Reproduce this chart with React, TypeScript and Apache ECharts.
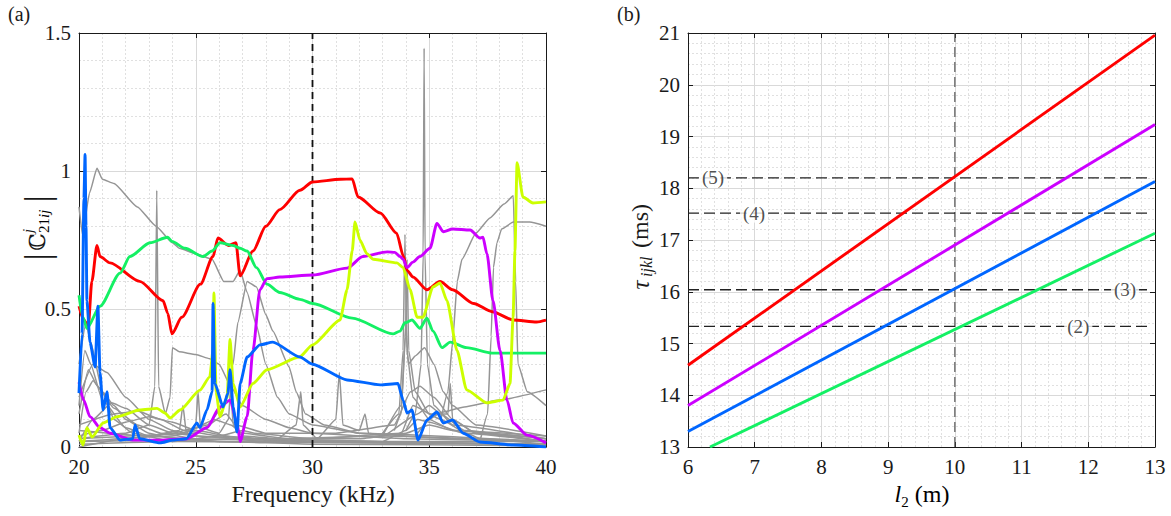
import React, { useEffect, useRef } from "react";
import * as echarts from "echarts";

// ---------- Panel (a) data: |C^j_21ij| vs frequency (kHz) ----------
const redA = [[20,0.51],[20.2,0.46],[20.4,0.44],[20.55,0.6],[20.77,0.73],[20.9,0.69],[21.33,0.667],[22.6,0.6],[23.6,0.53],[23.8,0.485],[23.98,0.41],[24.4,0.47],[25.2,0.59],[25.74,0.69],[25.95,0.757],[26.4,0.73],[26.72,0.74],[26.9,0.62],[27.45,0.71],[28.0,0.8],[28.6,0.86],[29.46,0.93],[30,0.96],[31.2,0.97],[31.7,0.971],[31.95,0.906],[32.9,0.848],[33.6,0.775],[33.9,0.69],[34.05,0.64],[34.3,0.616],[34.9,0.57],[35.46,0.6],[36,0.57],[36.9,0.52],[37.7,0.49],[38.6,0.46],[39.6,0.453],[40,0.46]];
const greenA = [[20,0.55],[20.17,0.47],[20.34,0.43],[20.9,0.51],[21.76,0.63],[22.18,0.69],[23.04,0.74],[23.8,0.76],[23.98,0.745],[24.54,0.72],[25.31,0.69],[25.7,0.71],[26.04,0.74],[26.6,0.73],[26.9,0.72],[27.2,0.71],[27.6,0.65],[28.05,0.59],[28.6,0.56],[29.46,0.535],[30,0.52],[31.7,0.467],[33.45,0.41],[33.75,0.42],[33.96,0.45],[34.26,0.46],[34.6,0.43],[34.9,0.467],[35.16,0.42],[35.55,0.36],[35.9,0.38],[36.6,0.36],[37.7,0.34],[40,0.34]];
const magentaA = [[20,0.235],[20.2,0.17],[20.47,0.11],[20.9,0.07],[21.33,0.05],[22.3,0.025],[23.47,0.025],[24.6,0.03],[25.48,0.07],[26.04,0.145],[26.47,0.17],[26.77,0.087],[26.9,0.02],[27.2,0.11],[27.45,0.35],[27.75,0.57],[28.05,0.61],[28.6,0.616],[30,0.623],[31.48,0.648],[32.16,0.69],[33.2,0.707],[33.53,0.705],[33.75,0.69],[33.88,0.68],[34.05,0.65],[34.3,0.67],[34.6,0.69],[35.03,0.72],[35.33,0.81],[35.6,0.78],[36.0,0.79],[36.75,0.786],[37.17,0.757],[37.3,0.76],[37.47,0.7],[37.73,0.53],[38.03,0.35],[38.33,0.17],[38.59,0.087],[39.19,0.043],[40,0.015]];
const yellowA = [[20,0.043],[20.17,0.007],[20.34,0.07],[20.56,0.036],[21.03,0.087],[21.63,0.11],[22.6,0.134],[23.34,0.14],[23.68,0.123],[23.9,0.105],[24.33,0.134],[25.18,0.206],[25.6,0.254],[25.74,0.35],[25.78,0.558],[25.87,0.2],[26.04,0.11],[26.34,0.18],[26.47,0.39],[26.6,0.23],[26.9,0.145],[27.45,0.23],[28.05,0.28],[29.46,0.327],[30,0.37],[31.18,0.46],[31.48,0.57],[31.7,0.71],[31.82,0.815],[32.03,0.75],[32.33,0.7],[32.6,0.68],[33.62,0.667],[33.88,0.65],[34.18,0.57],[34.48,0.47],[34.73,0.47],[35.16,0.58],[35.46,0.594],[35.76,0.53],[36.19,0.35],[36.6,0.207],[37.47,0.16],[38.16,0.17],[38.46,0.23],[38.59,0.47],[38.67,0.71],[38.76,1.03],[39.01,0.906],[39.44,0.884],[40,0.888]];
const blueA = [[20,0.195],[20.13,0.41],[20.21,0.9],[20.26,1.06],[20.3,0.8],[20.34,0.53],[20.47,0.38],[20.69,0.29],[20.81,0.51],[20.9,0.27],[21.03,0.134],[21.2,0.2],[21.33,0.07],[21.76,0.025],[22.3,0.03],[22.4,0.08],[22.6,0.03],[23.47,0.015],[24.03,0.025],[24.6,0.03],[25.05,0.087],[25.18,0.07],[25.48,0.134],[25.7,0.2],[25.74,0.52],[25.82,0.23],[26.17,0.145],[26.38,0.195],[26.47,0.28],[26.6,0.145],[26.77,0.054],[26.9,0.23],[27.2,0.326],[27.75,0.37],[28.3,0.38],[29.46,0.326],[30,0.3],[31.48,0.243],[32.9,0.225],[33.66,0.23],[33.88,0.17],[34.05,0.123],[34.26,0.134],[34.52,0.025],[34.9,0.098],[35.33,0.127],[35.6,0.087],[36.0,0.098],[36.45,0.05],[37.17,0.018],[38.6,0.007],[40,0.0]];

const gray1 = [[20,0.87],[20.15,0.77],[20.45,0.92],[20.77,1.01],[21,0.97],[21.5,0.955],[22.5,0.87],[23.3,0.8],[24,0.74],[24.3,0.72],[25,0.7],[25.7,0.68],[26.2,0.6],[26.6,0.6],[26.9,0.64],[27.2,0.56],[27.6,0.44],[28,0.3],[28.5,0.18],[29,0.12],[30,0.08],[32,0.05],[36,0.03],[40,0.02]];
const gray2 = [[20,0.03],[22,0.05],[23,0.08],[23.25,0.22],[23.33,0.93],[23.41,0.22],[23.7,0.12],[23.9,0.18],[24.0,0.36],[24.3,0.345],[25,0.335],[25.6,0.32],[26,0.3],[26.5,0.22],[27,0.15],[28,0.1],[29,0.07],[30,0.05],[34,0.03],[40,0.02]];
const gray3 = [[20,0.02],[24,0.04],[25.5,0.08],[26.2,0.15],[26.6,0.3],[26.8,0.45],[27.2,0.6],[27.6,0.58],[28,0.48],[28.3,0.42],[29,0.29],[29.3,0.2],[29.7,0.12],[30.5,0.08],[32,0.05],[40,0.02]];
const gray4 = [[35.5,0.1],[35.8,0.2],[36.0,0.38],[36.2,0.6],[36.4,0.68],[37,0.775],[37.6,0.83],[38.2,0.88],[38.6,0.91],[38.7,0.6],[38.8,0.3],[39.2,0.2],[40,0.15]];
const gray5 = [[37.2,0.03],[37.5,0.12],[37.65,0.4],[37.75,0.65],[37.9,0.74],[38.1,0.79],[38.6,0.815],[39.3,0.815],[40,0.8]];
const gray6 = [[34.5,0.05],[35,0.1],[35.5,0.125],[36.5,0.145],[38,0.17],[40,0.207]];
const gray7 = [[33.5,0.06],[33.8,0.12],[34.0,0.45],[34.1,0.3],[34.4,0.33],[34.8,0.36],[35.2,0.3],[35.6,0.2],[36,0.15],[37,0.08],[40,0.04]];
const gray8 = [[34,0.06],[34.4,0.12],[34.65,0.3],[34.74,0.7],[34.78,1.445],[34.82,0.7],[34.92,0.3],[35.2,0.15],[36,0.08],[40,0.03]];
const gray9 = [[33,0.05],[33.7,0.12],[33.88,0.35],[33.96,0.77],[34.04,0.35],[34.3,0.18],[35,0.1],[36,0.06],[40,0.03]];
const gray10 = [[33,0.04],[33.8,0.15],[33.98,0.4],[34.05,0.68],[34.12,0.35],[34.4,0.2],[35,0.12],[35.8,0.12],[35.9,0.23],[36.0,0.1],[37,0.05],[40,0.02]];
const gray11 = [[20,0.05],[20.3,0.2],[20.6,0.24],[21,0.2],[21.5,0.15],[22,0.1],[23,0.05],[24,0.03],[26,0.02],[30,0.01],[40,0.005]];
const gray12 = [[20,0.12],[20.4,0.28],[20.8,0.22],[21.5,0.14],[22.5,0.08],[23.5,0.05],[25,0.03],[30,0.02],[40,0.01]];
const gray13 = [[20,0.02],[20.6,0.1],[21.4,0.16],[22,0.14],[23,0.08],[24,0.05],[25,0.04],[27,0.03],[33,0.02],[40,0.02]];
const gray14 = [[20,0.3],[20.3,0.45],[20.5,0.38],[21,0.2],[21.5,0.1],[22.3,0.05],[24,0.02],[40,0.01]];
const gray15 = [[20,0.08],[21.5,0.12],[22.5,0.13],[23.5,0.1],[24.5,0.06],[26,0.04],[28,0.03],[32,0.03],[34,0.05],[35,0.08],[36,0.06],[40,0.04]];
const gray16 = [[20,0.0],[22,0.03],[24,0.05],[25,0.07],[25.8,0.1],[26.5,0.08],[27,0.05],[29,0.03],[33,0.04],[34.5,0.12],[35,0.15],[35.5,0.12],[36.5,0.06],[40,0.02]];
const gray17 = [[20,0.03],[25,0.05],[26.3,0.12],[26.7,0.08],[28,0.05],[31,0.05],[33.5,0.08],[34.2,0.2],[34.6,0.22],[35.2,0.18],[36,0.1],[37,0.05],[40,0.03]];
const gray18 = [[20,0.02],[28.5,0.03],[29.3,0.08],[29.5,0.2],[29.6,0.08],[30.2,0.03],[31,0.1],[31.15,0.27],[31.3,0.08],[32,0.06],[32.25,0.12],[32.4,0.05],[33,0.04],[40,0.02]];
const gray19 = [[20,0.06],[23,0.04],[24.3,0.06],[24.45,0.15],[24.6,0.05],[25,0.08],[25.1,0.2],[25.2,0.07],[26,0.05],[26.4,0.1],[26.5,0.22],[26.6,0.08],[27,0.04],[30,0.02],[40,0.01]];
const gray20 = [[20,0.15],[20.25,0.35],[20.5,0.3],[21,0.17],[22,0.07],[23,0.04],[26,0.02],[40,0.01]];
const gray21 = [[20,0.04],[21,0.06],[22,0.09],[23,0.11],[24,0.09],[25,0.06],[27,0.03],[33,0.02],[34,0.06],[34.5,0.1],[35,0.09],[36.5,0.05],[40,0.02]];
const gray22 = [[20,0.01],[24,0.02],[26,0.04],[27,0.06],[27.5,0.05],[30,0.03],[33.8,0.05],[34.3,0.15],[35.5,0.1],[36.6,0.05],[37.2,0.03],[40,0.01]];
const gray23 = [[20,0.18],[20.6,0.3],[21.2,0.27],[22,0.18],[23,0.1],[24,0.06],[25,0.04],[28,0.02],[40,0.01]];
const grayCurvesA = [gray1,gray2,gray3,gray4,gray5,gray6,gray7,gray8,gray9,gray10,gray11,gray12,gray13,gray14,gray15,gray16,gray17,gray18,gray19,gray20,gray21,gray22,gray23];
const markerFreq = 30;

// ---------- Panel (b) data: tau_ijkl (ms) vs l2 (m) ----------
const redB = [[6,14.58],[13,20.96]];
const magentaB = [[6,13.8],[13,19.23]];
const blueB = [[6,13.3],[13,18.13]];
const greenB = [[6.33,13.0],[13,17.13]];
const refLevels = [15.33,16.04,17.52,18.2];
const refLabels = ["(2)","(3)","(4)","(5)"];
const refLabelX = [11.85,12.55,6.99,6.375];
const refLineEnd = 12.92;
const markerL2 = 10;

const C = { red:"#ff0000", green:"#14f064", magenta:"#cc00ff", blue:"#0066ff", yellow:"#ccff00", gray:"#959595" };
const FONT = "Liberation Serif";
const INK = "#1a1a1a";

function xAxes(gridIndex:number, min:number, max:number, interval:number) {
  const common = { gridIndex, type:"value", min, max, interval };
  return [
    { ...common, position:"bottom",
      axisLine:{ show:true, onZero:false, lineStyle:{ color:INK, width:1 } },
      axisTick:{ show:true, inside:true, length:5, lineStyle:{ color:INK } },
      axisLabel:{ show:true, fontFamily:FONT, fontSize:21, color:INK, margin:9 },
      splitLine:{ show:true, lineStyle:{ color:"#d9d9d9", width:1 } },
      minorTick:{ show:false, splitNumber:5 },
      minorSplitLine:{ show:true, lineStyle:{ color:"#e0e0e0", width:1, type:[2,2] } } },
    { ...common, position:"top",
      axisLine:{ show:true, onZero:false, lineStyle:{ color:INK, width:1 } },
      axisTick:{ show:true, inside:true, length:5, lineStyle:{ color:INK } },
      axisLabel:{ show:false }, splitLine:{ show:false } },
  ];
}
function yAxes(gridIndex:number, min:number, max:number, interval:number, minorN:number) {
  const common = { gridIndex, type:"value", min, max, interval };
  return [
    { ...common, position:"left",
      axisLine:{ show:true, onZero:false, lineStyle:{ color:INK, width:1 } },
      axisTick:{ show:true, inside:true, length:5, lineStyle:{ color:INK } },
      axisLabel:{ show:true, fontFamily:FONT, fontSize:21, color:INK, margin:8 },
      splitLine:{ show:true, lineStyle:{ color:"#d9d9d9", width:1 } },
      minorTick:{ show:false, splitNumber:minorN },
      minorSplitLine:{ show:true, lineStyle:{ color:"#e0e0e0", width:1, type:[2,2] } } },
    { ...common, position:"right",
      axisLine:{ show:true, onZero:false, lineStyle:{ color:INK, width:1 } },
      axisTick:{ show:true, inside:true, length:5, lineStyle:{ color:INK } },
      axisLabel:{ show:false }, splitLine:{ show:false } },
  ];
}

function line(data:number[][], xi:number, yi:number, color:string, width:number, z:number, type:any = "solid", smooth:number = 0) {
  return { type:"line", xAxisIndex:xi, yAxisIndex:yi, data, showSymbol:false, symbol:"none",
    smooth, smoothMonotone:"x", lineStyle:{ color, width, type }, z, silent:true };
}

export default function App() {
  const ref = useRef<HTMLDivElement>(null);
  useEffect(() => {
    if (!ref.current) return;
    const chart = echarts.init(ref.current, undefined, { renderer:"svg" });
    const series:any[] = [];
    grayCurvesA.forEach(g => series.push(line(g, 0, 0, C.gray, 1.5, 2, "solid", 0.15)));
    series.push(line([[markerFreq,0],[markerFreq,1.5]], 0, 0, "#111", 1.8, 3, [7,5]));
    series.push(line(redA, 0, 0, C.red, 2.9, 4, "solid", 0.25));
    series.push(line(greenA, 0, 0, C.green, 2.9, 4, "solid", 0.25));
    series.push(line(magentaA, 0, 0, C.magenta, 2.9, 4, "solid", 0.25));
    series.push(line(yellowA, 0, 0, C.yellow, 2.9, 4, "solid", 0.2));
    series.push(line(blueA, 0, 0, C.blue, 2.9, 5, "solid", 0.2));
    // panel b
    series.push(line([[markerL2,13],[markerL2,21]], 2, 2, "#555", 1.2, 3, [10,5]));
    refLevels.forEach(v => series.push(line([[6,v],[refLineEnd,v]], 2, 2, "#222", 1.4, 3, [11,5])));
    series.push(line(redB, 2, 2, C.red, 2.9, 4));
    series.push(line(magentaB, 2, 2, C.magenta, 2.9, 4));
    series.push(line(blueB, 2, 2, C.blue, 2.9, 4));
    series.push(line(greenB, 2, 2, C.green, 2.9, 4));
    series.push({
      type:"scatter", xAxisIndex:2, yAxisIndex:2, symbolSize:0, z:6, silent:true,
      data: refLevels.map((v,i) => ({ value:[refLabelX[i], v], name:refLabels[i] })),
      label:{ show:true, position:"inside", formatter:(p:any) => p.name, fontFamily:FONT, fontSize:19,
        color:"#222", backgroundColor:"#ffffff", padding:[0,3] },
    });

    const sub = { fontFamily:FONT, fontSize:15, fontStyle:"italic", color:INK };
    chart.setOption({
      animation:false,
      grid:[
        { left:79, top:33, width:467, height:414, show:false },
        { left:688, top:33, width:467, height:414, show:false },
      ],
      xAxis:[ ...xAxes(0,20,40,5), ...xAxes(1,6,13,1) ],
      yAxis:[ ...yAxes(0,0,1.5,0.5,5), ...yAxes(1,13,21,1,5) ],
      series,
      graphic:[
        { type:"text", left:8, top:4, style:{ text:"(a)", fontFamily:FONT, fontSize:20, fill:INK } },
        { type:"text", left:617, top:4, style:{ text:"(b)", fontFamily:FONT, fontSize:20, fill:INK } },
        { type:"text", x:313, y:494, style:{ text:"Frequency (kHz)", fontFamily:FONT, fontSize:24, fill:INK, align:"center", verticalAlign:"middle" } },
        { type:"text", x:922, y:494, style:{ text:"{i|l}{s|2}{n| (m)}", align:"center", verticalAlign:"middle",
            rich:{ i:{ fontFamily:FONT, fontSize:24, fontStyle:"italic", color:INK },
                   s:{ fontFamily:FONT, fontSize:15, color:INK, verticalAlign:"bottom", lineHeight:30 },
                   n:{ fontFamily:FONT, fontSize:24, color:INK } } } },
        { type:"group", x:37, y:228, rotation:Math.PI/2, children:[
            { type:"text", x:-29, y:0, style:{ text:"|", fontFamily:FONT, fontSize:36, fill:INK, align:"center", verticalAlign:"middle" } },
            { type:"text", x:-14, y:0, style:{ text:"ℂ", fontFamily:"DejaVu Serif", fontSize:22, fill:INK, align:"center", verticalAlign:"middle" } },
            { type:"text", x:-5, y:-9, style:{ text:"j", fontFamily:FONT, fontStyle:"italic", fontSize:15, fill:INK, align:"left", verticalAlign:"middle" } },
            { type:"text", x:-5, y:7, style:{ text:"{n|21}{i|ij}", align:"left", verticalAlign:"middle",
                rich:{ n:{ ...sub, fontStyle:"normal" }, i:sub } } },
            { type:"text", x:29, y:0, style:{ text:"|", fontFamily:FONT, fontSize:36, fill:INK, align:"center", verticalAlign:"middle" } },
        ]},
        { type:"group", x:640, y:243, rotation:Math.PI/2, children:[
            { type:"text", x:-42, y:0, style:{ text:"τ", fontFamily:FONT, fontStyle:"italic", fontSize:25, fill:INK, align:"center", verticalAlign:"middle" } },
            { type:"text", x:-34, y:6, style:{ text:"ijkl", fontFamily:FONT, fontStyle:"italic", fontSize:16, fill:INK, align:"left", verticalAlign:"middle" } },
            { type:"text", x:-5, y:0, style:{ text:"(ms)", fontFamily:FONT, fontSize:24, fill:INK, align:"left", verticalAlign:"middle" } },
        ]},
      ],
    });
    return () => chart.dispose();
  }, []);
  return <div ref={ref} style={{ position:"fixed", left:0, top:0, width:1171, height:516, background:"#fff" }} />;
}
